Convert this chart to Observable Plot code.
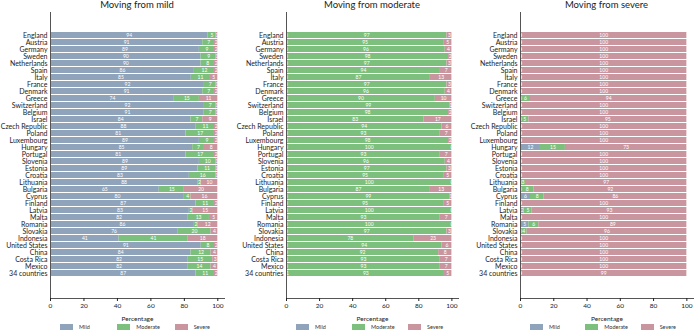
<!DOCTYPE html>
<html><head><meta charset="utf-8">
<script src="https://cdn.jsdelivr.net/npm/d3@7"></script>
<script src="https://cdn.jsdelivr.net/npm/@observablehq/plot@0.6"></script>
<style>
body{margin:0;background:#fff;font-family:Lato,"Liberation Sans",sans-serif;}
#wrap{display:flex;width:696px;height:331px;overflow:hidden}
.panel{width:232px;position:relative}
.title{height:10px;font-size:9.5px;line-height:10px;text-align:center;color:#222;white-space:nowrap}
.legend{display:flex;height:9px;align-items:center}
.item{display:flex;align-items:center;width:60px;font-size:5.5px;color:#333}
.sw{width:13px;height:6px;margin-right:6px}
svg{display:block}
</style></head><body><div id="wrap"></div>
<script>
const countries = ["England","Austria","Germany","Sweden","Netherlands","Spain","Italy","France","Denmark","Greece","Switzerland","Belgium","Israel","Czech Republic","Poland","Luxembourg","Hungary","Portugal","Slovenia","Estonia","Croatia","Lithuania","Bulgaria","Cyprus","Finland","Latvia","Malta","Romania","Slovakia","Indonesia","United States","China","Costa Rica","Mexico","34 countries"];
const categories = ["Mild","Moderate","Severe"];
const colors = ["#8fa3bb","#7dbf7c","#c9959f"];
const titles = ["Moving from mild","Moving from moderate","Moving from severe"];
const xTicks = [0,20,40,60,80,100];

// Moving from mild
const fromMildMild = [94,91,89,90,90,86,85,92,91,74,92,91,84,88,81,89,85,81,89,89,83,88,65,80,87,83,82,86,76,41,91,84,82,82,87];
const fromMildModerate = [5,7,9,9,8,12,11,7,7,15,7,7,7,11,17,9,7,17,10,11,16,2,15,4,11,2,13,2,20,41,8,12,15,14,11];
const fromMildSevere = [1,2,2,1,2,2,5,1,2,11,1,1,9,2,2,2,8,2,1,1,1,10,20,16,2,15,5,12,4,18,2,4,3,4,2];

// Moving from moderate
const fromModerateMild = [0,0,0,0,0,0,0,0,0,0,0,0,0,0,0,0,0,0,0,0,0,0,0,0,0,0,0,0,0,0,0,0,0,0,1];
const fromModerateModerate = [97,95,96,98,97,94,87,97,96,90,99,98,83,94,93,98,100,93,96,97,95,100,87,99,95,100,93,100,97,78,94,92,93,93,93];
const fromModerateSevere = [3,5,4,2,3,7,13,3,4,10,1,2,17,6,7,2,0,7,4,3,5,0,13,1,5,0,7,0,3,23,6,8,7,7,5];

// Moving from severe
const fromSevereMild = [0,0,0,0,0,0,0,0,0,0,0,0,0,0,0,0,12,0,0,0,0,0,0,6,0,2,0,5,0,0,0,0,0,0,0];
const fromSevereModerate = [0,0,0,0,0,0,0,0,0,6,0,0,5,0,0,0,15,0,0,0,0,3,8,8,0,5,0,6,4,0,0,0,0,0,0];
const fromSevereSevere = [100,100,100,100,100,100,100,100,100,94,100,100,95,100,100,100,73,100,100,100,100,97,92,86,100,93,100,89,96,100,100,100,100,100,99];

const panels = [
  [fromMildMild, fromMildModerate, fromMildSevere],
  [fromModerateMild, fromModerateModerate, fromModerateSevere],
  [fromSevereMild, fromSevereModerate, fromSevereSevere]
];
const margins = [[50, 8], [54, 6], [56, 3]];

function toRows(series) {
  const rows = [];
  countries.forEach((c, i) => {
    categories.forEach((cat, j) => rows.push({country: c, cat, value: series[j][i]}));
  });
  return rows;
}

const wrap = document.getElementById("wrap");
panels.forEach((series, p) => {
  const [ml, mr] = margins[p];
  const data = toRows(series);
  const panel = document.createElement("div");
  panel.className = "panel";
  const t = document.createElement("div");
  t.className = "title";
  t.style.paddingLeft = ml + "px";
  t.style.width = (232 - ml - mr) + "px";
  t.textContent = titles[p];
  panel.appendChild(t);

  const chart = Plot.plot({
    width: 232, height: 312,
    marginLeft: ml, marginRight: mr, marginTop: 2, marginBottom: 24,
    style: {fontFamily: "Lato, 'Liberation Sans', sans-serif", fontSize: "7px", color: "#222", background: "transparent"},
    x: {domain: [0, 1.04]},
    y: {domain: countries, padding: 0.2, insetTop: 8.5, insetBottom: 11.5, label: null},
    color: {domain: categories, range: colors},
    marks: [
      Plot.barX(data, Plot.stackX({x: "value", y: "country", fill: "cat", z: "cat", offset: "normalize"})),
      Plot.text(data, Plot.stackX({x: "value", y: "country", z: "cat", offset: "normalize", text: "value", fill: "white", fontSize: 5})),
      Plot.frame({anchor: "bottom", stroke: "#555"}),
      Plot.ruleX([0], {stroke: "#555"}),
      Plot.axisX({ticks: xTicks.map(d => d / 100), tickFormat: d => Math.round(d * 100), tickSize: 3, tickPadding: 2, fontSize: 6.5, label: "Percentage", labelAnchor: "center", labelArrow: "none", labelOffset: 22}),
      Plot.axisY({tickSize: 0, tickPadding: 3, fontSize: 7, label: null})
    ]
  });
  panel.appendChild(chart);

  const lg = document.createElement("div");
  lg.className = "legend";
  lg.style.paddingLeft = (ml + 10) + "px";
  categories.forEach((cat, j) => {
    const it = document.createElement("div");
    it.className = "item";
    const sw = document.createElement("span");
    sw.className = "sw";
    sw.style.background = colors[j];
    it.appendChild(sw);
    it.appendChild(document.createTextNode(cat));
    lg.appendChild(it);
  });
  panel.appendChild(lg);
  wrap.appendChild(panel);
});
</script>
</body></html>
